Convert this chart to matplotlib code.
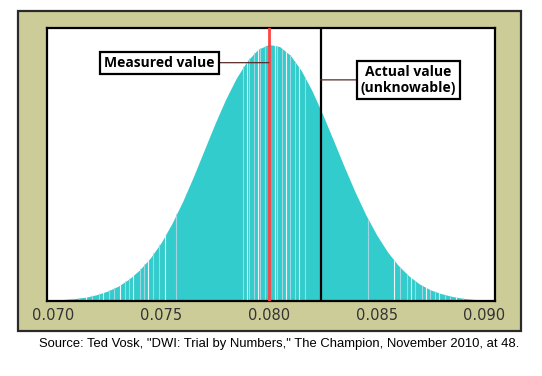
import matplotlib
matplotlib.use("Agg")
import matplotlib.pyplot as plt
from matplotlib.patches import Rectangle

# curve heights (fraction of plot height)
x_vals = [0.0697, 0.0700, 0.0705, 0.0710, 0.0715, 0.0720, 0.0725, 0.0730, 0.0735, 0.0740,
          0.0745, 0.0750, 0.0755, 0.0760, 0.0765, 0.0770, 0.0775, 0.0780, 0.0785, 0.0790,
          0.0795, 0.0800, 0.0805, 0.0810, 0.0815, 0.0820, 0.0825, 0.0830, 0.0835, 0.0840,
          0.0845, 0.0850, 0.0855, 0.0860, 0.0865, 0.0870, 0.0875, 0.0880, 0.0885, 0.0890,
          0.0895, 0.0900, 0.0905]
heights = [0.002, 0.003, 0.006, 0.009, 0.014, 0.023, 0.036, 0.054, 0.080, 0.114,
           0.158, 0.214, 0.284, 0.365, 0.456, 0.553, 0.650, 0.740, 0.818, 0.880,
           0.922, 0.940, 0.932, 0.900, 0.845, 0.771, 0.683, 0.588, 0.492, 0.400,
           0.316, 0.243, 0.181, 0.131, 0.092, 0.062, 0.041, 0.027, 0.017, 0.010,
           0.006, 0.003, 0.002]

# pale streaks inside the filled area
streaks = [0.0706, 0.0709, 0.0712, 0.0715, 0.0718, 0.0721, 0.0723, 0.0726, 0.0728, 0.0731,
           0.0733, 0.0735, 0.0737, 0.0740, 0.0742, 0.0744, 0.0746, 0.0749, 0.0752, 0.0757,
           0.0788, 0.0790, 0.0791, 0.0793, 0.0795, 0.0796, 0.0798, 0.0803, 0.0804, 0.0806,
           0.0808, 0.0810, 0.0812, 0.0814, 0.0817, 0.0846, 0.0858, 0.0861, 0.0864, 0.0866,
           0.0868, 0.0871, 0.0873, 0.0875, 0.0877, 0.0879, 0.0882, 0.0884, 0.0887, 0.0890]

measured = 0.0800
actual = 0.0824
ticks = [0.070, 0.075, 0.080, 0.085, 0.090]
tick_labels = ["0.070", "0.075", "0.080", "0.085", "0.090"]

fig = plt.figure(figsize=(5.42, 3.76), dpi=100)
fig.patch.set_facecolor("white")

# khaki frame behind the plot
bg = fig.add_axes([0, 0, 1, 1], zorder=0)
bg.set_axis_off()
bg.set_xlim(0, 542)
bg.set_ylim(376, 0)
bg.add_patch(Rectangle((18, 11), 503, 320, facecolor="#CCCC99", edgecolor="#2a2a2a",
                       linewidth=1.6))

ax = fig.add_axes([47 / 542, 75 / 376, 448 / 542, 273 / 376], zorder=1)
ax.set_facecolor("white")
ax.set_xlim(0.0697, 0.0905)
ax.set_ylim(0, 1)

fill = ax.fill_between(x_vals, 0, heights, color="#33CCCC", linewidth=0, zorder=1)
clip = fill.get_paths()[0]
for i, s in enumerate(streaks):
    c = "#EAF6F8" if i % 3 == 0 else "#9FD6E2"
    ln = ax.axvline(s, color=c, linewidth=0.8, zorder=2)
    ln.set_clip_path(clip, ax.transData)

ax.axvline(measured, color="#FF4444", linewidth=2, zorder=4)
ax.axvline(actual, color="black", linewidth=1.6, zorder=4)

box = dict(boxstyle="square,pad=0.3", facecolor="white", edgecolor="black", linewidth=1.6)
ax.annotate("Measured value", xy=(measured, 0.873), xytext=(0.07492, 0.873),
            ha="center", va="center", fontsize=10, fontweight="bold", family="Open Sans",
            bbox=box, arrowprops=dict(arrowstyle="-", color="#5a2a2a", lw=0.9,
                                      shrinkA=0, shrinkB=0), zorder=5)
ax.annotate("Actual value\n(unknowable)", xy=(actual, 0.81), xytext=(0.08648, 0.81),
            ha="center", va="center", fontsize=10, fontweight="bold", family="Open Sans",
            linespacing=1.15, bbox=box,
            arrowprops=dict(arrowstyle="-", color="#5a2a2a", lw=0.9,
                            shrinkA=0, shrinkB=0), zorder=5)

ax.set_xticks(ticks)
ax.set_xticklabels(tick_labels)
ax.set_yticks([])
ax.tick_params(axis="x", length=0, pad=5, labelsize=10.5, labelcolor="#333333")
for sp in ax.spines.values():
    sp.set_linewidth(1.6)
    sp.set_color("black")

fig.text(279.5 / 542, 1 - 344 / 376,
         'Source: Ted Vosk, "DWI: Trial by Numbers," The Champion, November 2010, at 48.',
         ha="center", va="center", fontsize=9.4, family="Liberation Sans", color="black")

fig.savefig("out.png", dpi=100)
